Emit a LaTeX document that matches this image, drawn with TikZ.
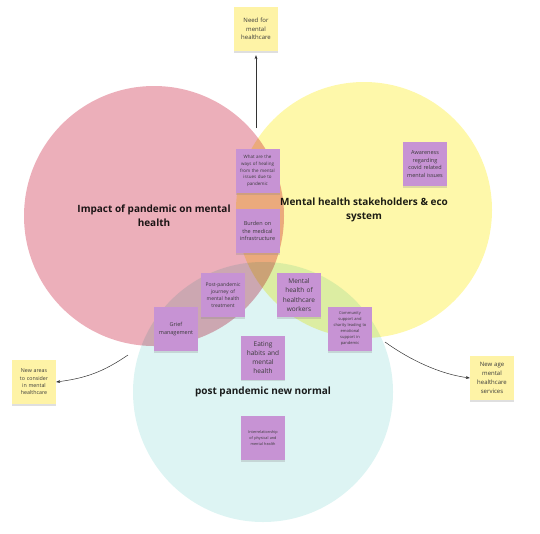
\documentclass[tikz,border=0pt]{standalone}
\usepackage{fontspec}
\setmainfont{Open Sans}
\usetikzlibrary{arrows.meta,positioning,shadows}
\definecolor{pinkzone}{HTML}{ECAFBA}
\definecolor{yellowzone}{HTML}{FEF8AA}
\definecolor{cyanzone}{HTML}{DDF4F3}
\definecolor{purplenotec}{HTML}{C793D4}
\definecolor{yellownotec}{HTML}{FEF3A6}
\definecolor{titletext}{HTML}{1E1E1E}
\definecolor{notetext}{HTML}{3A3A3A}
\definecolor{linkc}{HTML}{333333}
\begin{document}
\begin{tikzpicture}[x=1pt,y=-1pt,>={Stealth[length=4pt,width=3pt]},
  zone/.style={circle,inner sep=0pt,align=center,text=titletext,font=\fontsize{10}{14}\selectfont\bfseries},
  note/.style={minimum width=44pt,minimum height=44pt,text width=42pt,inner sep=0pt,align=center,text=notetext,
    drop shadow={shadow xshift=0pt,shadow yshift=-1.5pt,opacity=0.25}},
  purplenote/.style={note,fill=purplenotec},
  yellownote/.style={note,fill=yellownotec},
  link/.style={->,draw=linkc,line width=0.5pt}]
\useasboundingbox (0,0) rectangle (540,533);
% the three overlapping areas
\begin{scope}[blend mode=multiply]
\node[zone,fill=cyanzone,minimum size=260pt] (normal) at (263,392) {post pandemic new normal};
\node[zone,fill=yellowzone,minimum size=256pt] (stake) at (364,210) {Mental health stakeholders \& eco\\system};
\node[zone,fill=pinkzone,minimum size=260pt] (impact) at (154,216) {Impact of pandemic on mental\\health};
\end{scope}
% purple notes
\node[purplenote,font=\fontsize{4.5}{6.6}\selectfont] (healing) at (257.5,171) {What are the\\ways of healing\\from the mental\\issues due to\\pandemic};
\node[purplenote,font=\fontsize{5.5}{7.7}\selectfont] (burden) at (257.5,231) {Burden on\\the medical\\infrastructure};
\node[purplenote,font=\fontsize{5.5}{7.7}\selectfont] (awareness) at (425,164) {Awareness\\regarding\\covid related\\mental issues};
\node[purplenote,font=\fontsize{5}{7}\selectfont] (journey) at (223,295) {Post-pandemic\\journey of\\mental health\\treatment};
\node[purplenote,font=\fontsize{5.5}{8}\selectfont] (grief) at (176,329) {Grief\\management};
\node[purplenote,font=\fontsize{6.5}{9.3}\selectfont] (workers) at (299,295) {Mental\\health of\\healthcare\\workers};
\node[purplenote,font=\fontsize{4}{6}\selectfont] (community) at (350,329) {Community\\support and\\charity leading to\\emotional\\support in\\pandemic};
\node[purplenote,font=\fontsize{6.5}{9}\selectfont] (eating) at (263,357.5) {Eating\\habits and\\mental\\health};
\node[purplenote,font=\fontsize{3.8}{5.7}\selectfont] (interrel) at (263,438) {Interrelationship\\of physical and\\mental health};
% yellow notes
\node[yellownote,font=\fontsize{6}{8.3}\selectfont] (need) at (256,29) {Need for\\mental\\healthcare};
\node[yellownote,font=\fontsize{5.3}{7.3}\selectfont] (areas) at (34,382) {New areas\\to consider\\in mental\\healthcare};
\node[yellownote,font=\fontsize{6}{9.2}\selectfont] (newage) at (492,378) {New age\\mental\\healthcare\\services};
% arrows
\coordinate (topjoin) at (256,128);
\coordinate (leftjoin) at (128,355);
\coordinate (rightjoin) at (385,342);
\draw[link,shorten >=4pt] (topjoin) -- (need);
\draw[link] (leftjoin) .. controls +(-25,17) and +(30,-4) .. (areas.east);
\draw[link] (rightjoin) .. controls +(25,18) and +(-30,-4) .. (newage.west);
\end{tikzpicture}
\end{document}
